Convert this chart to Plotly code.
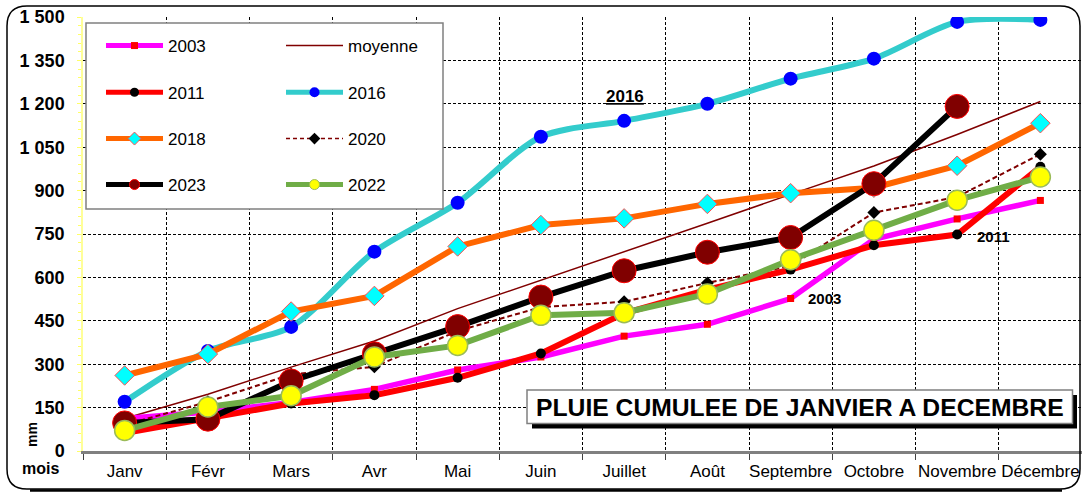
import plotly.graph_objects as go

# ---------------- data ----------------
months = ["Janv", "Févr", "Mars", "Avr", "Mai", "Juin", "Juillet", "Août",
          "Septembre", "Octobre", "Novembre", "Décembre"]

pluie_2003 = [112, 135, 168, 213, 280, 325, 397, 438, 527, 732, 802, 866]
pluie_2011 = [62, 112, 164, 193, 253, 337, 476, 558, 627, 711, 748, 982]
pluie_2016 = [170, 346, 429, 689, 858, 1086, 1141, 1200, 1287, 1356, 1483, 1490]
pluie_2018 = [261, 335, 482, 536, 707, 781, 804, 854, 891, 910, 986, 1133]
pluie_2020 = [90, 170, 265, 291, 415, 497, 516, 581, 640, 824, 878, 1026]
pluie_2022 = [71, 152, 191, 325, 365, 469, 478, 543, 661, 763, 867, 947]
pluie_2023 = [97, 110, 242, 336, 430, 532, 623, 687, 738, 924, 1191, None]
moyenne = [112, 196, 290, 380, 492, 590, 688, 787, 887, 985, 1094, 1208]

ytick_vals = [0, 150, 300, 450, 600, 750, 900, 1050, 1200, 1350, 1500]
ytick_text = ["0", "150", "300", "450", "600", "750", "900", "1 050", "1 200", "1 350", "1 500"]

title_text = "PLUIE CUMULEE DE JANVIER A DECEMBRE"

# ---------------- geometry helpers ----------------
W, H = 1082, 493
ML, MR, MT, MB = 83, 0, 17, 42
PW = W - ML - MR
PH = H - MT - MB
FONT = "Liberation Sans, Arial, sans-serif"


def px(x):
    return (x - ML) / PW


def py(y):
    return (H - MB - y) / PH


fig = go.Figure()

# ---------------- series (draw order) ----------------
series = [
    dict(name="moyenne", y=moyenne, mode="lines",
         line=dict(color="#800000", width=1.5), marker=None),
    dict(name="2003", y=pluie_2003, mode="lines+markers",
         line=dict(color="#FF00FF", width=5.5),
         marker=dict(symbol="square", size=7, color="#FF0000")),
    dict(name="2011", y=pluie_2011, mode="lines+markers",
         line=dict(color="#FF0000", width=6),
         marker=dict(symbol="circle", size=10, color="#000000")),
    dict(name="2016", y=pluie_2016, mode="lines+markers",
         line=dict(color="#33CCCC", width=6, shape="spline", smoothing=0.8),
         marker=dict(symbol="circle", size=14, color="#0000FF")),
    dict(name="2018", y=pluie_2018, mode="lines+markers",
         line=dict(color="#FF6600", width=6),
         marker=dict(symbol="diamond", size=15, color="#00FFFF",
                     line=dict(color="#FF5050", width=1))),
    dict(name="2020", y=pluie_2020, mode="lines+markers",
         line=dict(color="#800000", width=2, dash="5px,3px"),
         marker=dict(symbol="diamond", size=10, color="#000000")),
    dict(name="2023", y=pluie_2023, mode="lines+markers",
         line=dict(color="#000000", width=6),
         marker=dict(symbol="circle", size=24, color="#800000",
                     line=dict(color="#FF0000", width=1))),
    dict(name="2022", y=pluie_2022, mode="lines+markers",
         line=dict(color="#70AD47", width=6),
         marker=dict(symbol="circle", size=20, color="#FFFF00",
                     line=dict(color="#9BBB59", width=1.5))),
]

for s in series:
    kw = dict(x=months, y=s["y"], mode=s["mode"], name=s["name"],
              line=s["line"], showlegend=False, hoverinfo="skip")
    if s["marker"] is not None:
        kw["marker"] = s["marker"]
    fig.add_trace(go.Scatter(**kw))

# ---------------- legend (8 positioned legends) ----------------
legend_items = [
    ("2003", 0, 0, dict(color="#FF00FF", width=5), dict(symbol="square", size=7, color="#FF0000")),
    ("moyenne", 1, 0, dict(color="#800000", width=1.5), None),
    ("2011", 0, 1, dict(color="#FF0000", width=5), dict(symbol="circle", size=9, color="#000000")),
    ("2016", 1, 1, dict(color="#33CCCC", width=5), dict(symbol="circle", size=10, color="#0000FF")),
    ("2018", 0, 2, dict(color="#FF6600", width=5), dict(symbol="diamond", size=10, color="#00FFFF",
                                                          line=dict(color="#FF5050", width=1))),
    ("2020", 1, 2, dict(color="#800000", width=1.5, dash="4px,3px"), dict(symbol="diamond", size=9, color="#000000")),
    ("2023", 0, 3, dict(color="#000000", width=5), dict(symbol="circle", size=10, color="#800000",
                                                          line=dict(color="#FF0000", width=1))),
    ("2022", 1, 3, dict(color="#70AD47", width=5), dict(symbol="circle", size=10, color="#FFFF00",
                                                          line=dict(color="#9BBB59", width=1))),
]
col_x = [101, 281]
row_y = [46, 92.7, 139, 185]

legend_layouts = {}
for i, (name, c, r, ln, mk) in enumerate(legend_items):
    key = "legend" if i == 0 else f"legend{i + 1}"
    kw = dict(x=[None], y=[None], name=name, line=ln, showlegend=True,
              legend=key, hoverinfo="skip",
              mode="lines" if mk is None else "lines+markers")
    if mk is not None:
        kw["marker"] = mk
    fig.add_trace(go.Scatter(**kw))
    legend_layouts[key] = dict(
        x=px(col_x[c]), y=py(row_y[r]), xanchor="left", yanchor="middle",
        bgcolor="rgba(0,0,0,0)", borderwidth=0, itemwidth=57,
        font=dict(family=FONT, size=17, color="#000000"),
    )

# ---------------- shapes ----------------
def rounded_path(x0, y0, x1, y1, r):
    pts = [
        f"M {px(x0 + r)},{py(y0)}",
        f"L {px(x1 - r)},{py(y0)}",
        f"Q {px(x1)},{py(y0)} {px(x1)},{py(y0 + r)}",
        f"L {px(x1)},{py(y1 - r)}",
        f"Q {px(x1)},{py(y1)} {px(x1 - r)},{py(y1)}",
        f"L {px(x0 + r)},{py(y1)}",
        f"Q {px(x0)},{py(y1)} {px(x0)},{py(y1 - r)}",
        f"L {px(x0)},{py(y0 + r)}",
        f"Q {px(x0)},{py(y0)} {px(x0 + r)},{py(y0)}",
        "Z",
    ]
    return " ".join(pts)


shapes = [
    # outer rounded frame
    dict(type="path", xref="paper", yref="paper", path=rounded_path(7, 6, 1080, 489, 20),
         line=dict(color="#000000", width=1.5), layer="above"),
    # bottom shadow of frame
    dict(type="path", xref="paper", yref="paper",
         path=f"M {px(30)},{py(490.5)} L {px(1062)},{py(490.5)}",
         line=dict(color="#000000", width=2.5), layer="above"),
    # legend box
    dict(type="rect", xref="paper", yref="paper", x0=px(86), x1=px(443), y0=py(209), y1=py(23),
         fillcolor="#FFFFFF", line=dict(color="#808080", width=1.5), layer="above"),
    # title shadow
    dict(type="rect", xref="paper", yref="paper", x0=px(532), x1=px(1077), y0=py(428.5), y1=py(395),
         fillcolor="#000000", line=dict(width=0), layer="above"),
    # title box
    dict(type="rect", xref="paper", yref="paper", x0=px(527), x1=px(1072.5), y0=py(423.5), y1=py(390),
         fillcolor="#FFFFFF", line=dict(color="#808080", width=1.5), layer="above"),
]

# ---------------- annotations ----------------
def note(text, x, y, size, angle=0):
    return dict(text=text, x=px(x), y=py(y), xref="paper", yref="paper",
                showarrow=False, xanchor="center", yanchor="middle", textangle=angle,
                font=dict(family=FONT, size=size, color="#000000", weight="bold"))


annotations = [
    note(title_text, 799.5, 407, 24.7),
    note("<span style='text-decoration:underline'>2016</span>", 625, 97, 17),
    note("2003", 824, 298, 15),
    note("2011", 993, 236, 15),
    note("mm", 32, 435, 14, -90),
    note("mois", 40, 469, 16),
]

layout = dict(
    width=W, height=H,
    margin=dict(l=ML, r=MR, t=MT, b=MB, autoexpand=False),
    paper_bgcolor="#FFFFFF", plot_bgcolor="#FFFFFF",
    font=dict(family=FONT, color="#000000"),
    showlegend=True,
    xaxis=dict(
        type="category", categoryorder="array", categoryarray=months,
        tickson="boundaries", ticks="outside", ticklen=6, tickcolor="#404040", tickwidth=1,
        tickangle=0, ticklabelstandoff=3,
        showgrid=True, gridcolor="#000000", gridwidth=1, griddash="3px,2px",
        showline=True, linecolor="#808080", linewidth=2.5,
        tickfont=dict(family=FONT, size=17, color="#000000"),
        range=[-0.5, 11.5], fixedrange=True,
    ),
    yaxis=dict(
        range=[0, 1500], tickvals=ytick_vals, ticktext=ytick_text,
        ticks="outside", ticklen=4, tickcolor="#FFFF66",
        ticklabelstandoff=9,
        minor=dict(dtick=30, ticks="outside", ticklen=3, tickcolor="#FFFF66", showgrid=False),
        showgrid=True, gridcolor="#000000", gridwidth=1, griddash="3px,2px",
        zeroline=False, showline=True, linecolor="#FFFF99", linewidth=1.5,
        tickfont=dict(family=FONT, size=18, color="#000000", weight="bold"),
        fixedrange=True,
    ),
    shapes=shapes,
    annotations=annotations,
)
layout.update(legend_layouts)
fig.update_layout(**layout)

fig.write_html(
    "out.html",
    config={"displayModeBar": False},
    post_script="document.body.style.margin='0px';document.body.style.overflow='hidden';",
)
